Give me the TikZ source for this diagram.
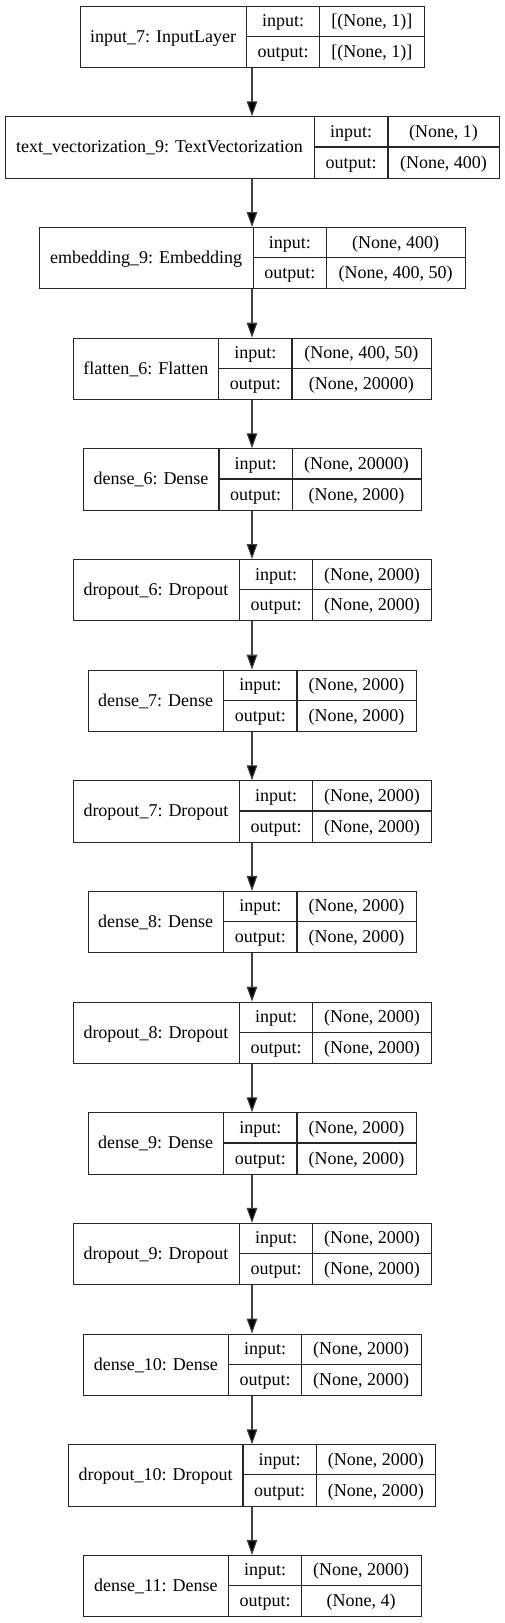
\documentclass[tikz,border=0pt]{standalone}
\usepackage{fontspec}
\setmainfont{Liberation Serif}
\usetikzlibrary{arrows.meta}
\newcommand\klayer[9]{%
  \pgfmathsetmacro\ktop{5.7+(#2-1)*110.66}%
  \pgfmathsetmacro\kbot{\ktop+61.3}%
  \pgfmathsetmacro\kmid{\ktop+30.65}%
  \pgfmathsetmacro\kw{#6-#3}%
  \pgfmathsetmacro\kca{(#3+#4)/2}%
  \pgfmathsetmacro\kcb{(#4+#5)/2}%
  \pgfmathsetmacro\kcc{(#5+#6)/2}%
  \pgfmathsetmacro\kra{\ktop+21.0}%
  \pgfmathsetmacro\krb{\ktop+51.8}%
  \pgfmathsetmacro\krn{\ktop+36.6}%
  \node[kbox, minimum width=\kw pt, anchor=north west] (#1) at (#3,\ktop) {};
  \draw[kline] (#4,\ktop) -- (#4,\kbot);
  \draw[kline] (#5,\ktop) -- (#5,\kbot);
  \draw[kline] (#4,\kmid) -- (#6,\kmid);
  \node[ktext] (#1-name) at (\kca,\krn) {#7};
  \node[ktext] (#1-inl) at (\kcb,\kra) {input:};
  \node[ktext] (#1-outl) at (\kcb,\krb) {output:};
  \node[ktext] (#1-inv) at (\kcc,\kra) {#8};
  \node[ktext] (#1-outv) at (\kcc,\krb) {#9};
}
\begin{document}
\begin{tikzpicture}[x=1pt,y=-1pt,
  kline/.style={draw=black!85, line width=1.1pt},
  kbox/.style={draw=black!85, line width=1.1pt, rectangle, inner sep=0pt, minimum height=61.3pt},
  ktext/.style={inner sep=0pt, anchor=base, font=\fontsize{18}{20}\selectfont},
  karrow/.style={draw=black!75, line width=1.1pt, -{Triangle[length=15pt,width=10.5pt,fill=black]}}]
\fill[white] (0,0) rectangle (504,1623);
\useasboundingbox (0,0) rectangle (504,1623);
\coordinate (ax) at (252,0);
\klayer{l1}{1}{79.7}{246.7}{319.7}{424}{input\_7: InputLayer}{[(None, 1)]}{[(None, 1)]}
\klayer{l2}{2}{4.7}{314.3}{388}{499}{text\_vectorization\_9: TextVectorization}{(None, 1)}{(None, 400)}
\klayer{l3}{3}{38.7}{253.3}{326.3}{465}{embedding\_9: Embedding}{(None, 400)}{(None, 400, 50)}
\klayer{l4}{4}{73}{218.7}{292}{430.7}{flatten\_6: Flatten}{(None, 400, 50)}{(None, 20000)}
\klayer{l5}{5}{83}{219}{292.3}{420.7}{dense\_6: Dense}{(None, 20000)}{(None, 2000)}
\klayer{l6}{6}{72.7}{239.3}{312.7}{431.3}{dropout\_6: Dropout}{(None, 2000)}{(None, 2000)}
\klayer{l7}{7}{87.7}{223.7}{297}{416}{dense\_7: Dense}{(None, 2000)}{(None, 2000)}
\klayer{l8}{8}{72.7}{239.3}{312.7}{431.3}{dropout\_7: Dropout}{(None, 2000)}{(None, 2000)}
\klayer{l9}{9}{87.7}{223.7}{297}{416}{dense\_8: Dense}{(None, 2000)}{(None, 2000)}
\klayer{l10}{10}{72.7}{239.3}{312.7}{431.3}{dropout\_8: Dropout}{(None, 2000)}{(None, 2000)}
\klayer{l11}{11}{87.7}{223.7}{297}{416}{dense\_9: Dense}{(None, 2000)}{(None, 2000)}
\klayer{l12}{12}{72.7}{239.3}{312.7}{431.3}{dropout\_9: Dropout}{(None, 2000)}{(None, 2000)}
\klayer{l13}{13}{83}{228.7}{301.7}{420.7}{dense\_10: Dense}{(None, 2000)}{(None, 2000)}
\klayer{l14}{14}{68.3}{243}{316.3}{435.3}{dropout\_10: Dropout}{(None, 2000)}{(None, 2000)}
\klayer{l15}{15}{83}{228.7}{301.7}{420.7}{dense\_11: Dense}{(None, 2000)}{(None, 4)}
\foreach \a/\b in {l1/l2,l2/l3,l3/l4,l4/l5,l5/l6,l6/l7,l7/l8,l8/l9,l9/l10,l10/l11,l11/l12,l12/l13,l13/l14,l14/l15}
  \draw[karrow] (\a.south -| ax) -- (\b.north -| ax);
\end{tikzpicture}
\end{document}
